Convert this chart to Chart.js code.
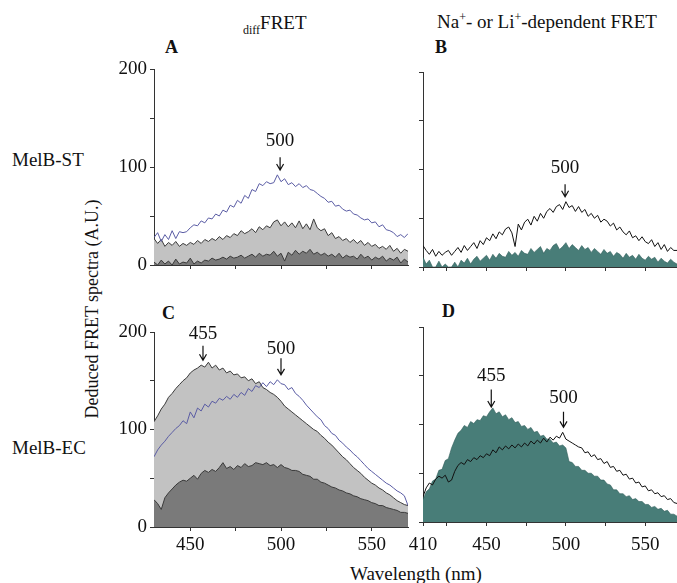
<!DOCTYPE html>
<html>
<head>
<meta charset="utf-8">
<script src="https://cdn.jsdelivr.net/npm/chart.js@4.4.1/dist/chart.umd.min.js"></script>
<style>
  html,body{margin:0;padding:0;background:#fff;}
  body{width:677px;height:583px;position:relative;overflow:hidden;font-family:'Liberation Serif','Times New Roman',serif;color:#111;}
  canvas{position:absolute;}
  .t{position:absolute;white-space:nowrap;font-size:19px;line-height:19px;}
  .b{font-weight:bold;font-size:18px;line-height:18px;}
</style>
</head>
<body>
<div class="t" style="left:243px;top:13px;"><span style="font-size:12px;position:relative;top:5px;">diff</span>FRET</div>
<div class="t" style="left:437px;top:12px;">Na<sup style="font-size:12px;line-height:0;">+</sup>- or Li<sup style="font-size:12px;line-height:0;">+</sup>-dependent FRET</div>
<div class="t b" style="left:165px;top:38px;">A</div>
<div class="t b" style="left:435px;top:38px;">B</div>
<div class="t b" style="left:162px;top:304px;">C</div>
<div class="t b" style="left:442px;top:302px;">D</div>
<div class="t" style="left:12px;top:150px;">MelB-ST</div>
<div class="t" style="left:12px;top:438px;">MelB-EC</div>
<div class="t" style="left:92px;top:309px;font-size:18px;transform:translate(-50%,-50%) rotate(-90deg);">Deduced FRET spectra (A.U.)</div>
<div class="t" style="left:350px;top:564px;">Wavelength (nm)</div>

<canvas id="cA" width="315" height="235" style="left:100px;top:50px;"></canvas>
<canvas id="cB" width="282" height="235" style="left:395px;top:50px;"></canvas>
<canvas id="cC" width="315" height="283" style="left:100px;top:300px;"></canvas>
<canvas id="cD" width="282" height="283" style="left:395px;top:300px;"></canvas>

<script>
// ---------- data ----------
const wlAC = [430,432,434,436,438,440,442,444,446,448,450,452,454,456,458,460,462,464,466,468,
  470,472,474,476,478,480,482,484,486,488,490,492,494,496,498,500,502,504,506,508,
  510,512,514,516,518,520,522,524,526,528,530,532,534,536,538,540,542,544,546,548,
  550,552,554,556,558,560,562,564,566,568,570];
const wlBD = [410,412,414,416,418,420,422,424,426,428,430,432,434,436,438,440,442,444,446,448,
  450,452,454,456,458,460,462,464,466,468,470,472,474,476,478,480,482,484,486,488,
  490,492,494,496,498,500,502,504,506,508,510,512,514,516,518,520,522,524,526,528,
  530,532,534,536,538,540,542,544,546,548,550,552,554,556,558,560,562,564,566,568,570];

// Panel A (MelB-ST, diffFRET)
const aBlue = [28,33,24,31,26,35,27,34,33,34, 38,41,40,45,43,48,47,52,50,56,
  54,61,59,66,63,71,68,77,75,83, 81,85,83,84,92,85,88,82,84,80,
  83,79,81,77,76,73,70,68,64,65, 60,61,57,55,56,52,51,48,46,47,
  43,44,39,41,36,35,33,29,31,28, 32];
const aLight = [27,22,26,19,23,20,24,19,22,20, 23,21,25,22,26,24,27,25,29,26,
  30,28,32,30,35,32,34,37,33,39, 36,40,38,44,46,40,44,39,43,38,
  45,37,42,36,47,38,35,37,30,33, 27,29,25,27,23,26,22,25,20,23,
  19,21,17,19,16,20,14,17,12,16, 14];
const aDark = [3,0,5,1,4,0,6,1,3,2, 7,1,4,2,5,4,7,5,6,8,
  6,9,7,8,10,7,9,11,8,12, 9,11,10,14,9,12,4,13,10,15,
  11,14,12,16,11,13,10,12,9,11, 8,12,7,10,8,9,6,11,7,9,
  5,8,6,9,4,7,5,8,2,6, 3];

// Panel B (MelB-ST, Na+/Li+-dependent)
const bLine = [22,17,13,18,11,16,12,15,17,12, 16,20,15,22,17,21,25,19,27,23,
  30,27,34,29,36,33,39,41,35,21, 44,38,46,49,43,52,47,55,50,57,
  60,56,62,64,59,67,61,63,57,62, 56,59,52,55,50,53,46,49,47,42,
  45,38,41,36,33,37,30,32,27,31, 26,24,28,21,25,18,23,16,20,17, 17];
const bFill = [10,3,7,0,0,6,0,3,0,0, 5,0,7,4,9,3,8,11,6,9,
  12,7,13,9,14,11,10,16,12,15, 11,17,14,13,19,15,18,21,14,19,
  17,22,24,18,21,25,19,23,20,17, 22,18,20,15,19,16,13,18,14,16,
  11,15,13,9,14,10,12,8,13,9, 7,11,8,10,5,9,6,4,8,5, 3];

// Panel C (MelB-EC, diffFRET)
const cBlue = [72,79,84,88,93,97,101,104,109,106, 118,112,122,119,126,123,129,127,132,130,
  134,131,136,133,138,135,142,139,145,143, 148,144,149,146,151,147,146,141,143,137,
  134,130,125,121,117,113,110,104,101,96, 94,89,86,82,79,75,72,68,64,60,
  57,54,51,48,45,43,40,37,35,32, 22];
const cLight = [108,114,121,126,133,137,142,146,150,153, 158,161,163,166,164,169,163,166,161,163,
  158,160,156,157,153,154,150,152,147,149, 143,141,138,136,133,129,124,121,118,115,
  112,109,106,103,100,98,94,91,87,84, 80,76,72,69,65,61,58,55,51,48,
  45,43,40,38,35,33,30,27,25,23, 22];
const cDark = [28,24,18,30,35,39,43,46,48,47, 50,53,49,55,58,56,59,57,61,66,
  60,62,59,63,61,65,62,63,66,65, 64,66,63,64,61,64,61,60,58,58,
  57,54,53,52,49,49,46,45,43,41, 40,38,37,35,34,32,31,29,28,27,
  25,24,22,22,20,19,18,17,15,15, 14];

// Panel D (MelB-EC, Na+/Li+-dependent)
const dLine = [26,35,40,38,44,47,45,48,41,43, 52,58,61,59,64,62,66,64,68,66,
  70,68,74,71,77,74,78,75,79,76, 80,77,81,78,83,80,84,81,86,82,
  87,84,88,86,92,85,83,81,79,77, 76,71,72,67,69,64,65,60,62,56,
  57,52,53,48,49,44,45,40,41,36, 37,32,33,29,30,26,27,23,24,20, 19];
const dFill = [23,31,34,42,44,53,54,63,65,76, 84,91,94,99,97,103,101,105,104,109,
  108,113,117,111,113,108,110,105,107,102, 103,98,99,95,97,92,93,88,89,85,
  85,81,82,78,79,76,62,61,57,57, 53,53,50,50,47,47,43,43,39,38,
  33,33,29,29,26,27,23,24,21,21, 18,18,15,16,13,14,11,12,8,8, 6];

// Tick values and labels
const yTicks = [0,50,100,150,200];
const yLabels = [0,100,200];
const xTicksAC = [450,475,500,525,550];
const xTicksBD = [410,425,450,475,500,525,550];
const xLabelsAC = [450,500,550];
const xLabelsBD = [410,450,500,550];

// Peak annotations: text, wavelength, value of text centre, arrow start, arrow tip
const annA = [{text:'500', x:499.5, textY:127, from:110, to:97}];
const annB = [{text:'500', x:499.5, textY:102, from:85, to:72}];
const annC = [{text:'455', x:457, textY:198, from:186, to:171},
              {text:'500', x:500, textY:183, from:173, to:156}];
const annD = [{text:'455', x:453, textY:150, from:136, to:118},
              {text:'500', x:498.5, textY:127, from:113, to:97}];

// ---------- drawing ----------
const FONT = "'Liberation Serif','Times New Roman',serif";
const AX = '#333';
const pts = (xs, ys) => xs.map((x,i) => ({x:x, y:ys[i]}));

const annPlugin = {
  id:'ann',
  afterDraw(chart, args, opts){
    const list = opts.items || [];
    const ctx = chart.ctx, xs = chart.scales.x, ys = chart.scales.y;
    ctx.save();
    ctx.fillStyle = '#111'; ctx.strokeStyle = '#111'; ctx.lineWidth = 1.2;
    ctx.font = '19px ' + FONT; ctx.textAlign = 'center'; ctx.textBaseline = 'middle';
    list.forEach(a => {
      const px = xs.getPixelForValue(a.x);
      ctx.fillText(a.text, px, ys.getPixelForValue(a.textY));
      const y1 = ys.getPixelForValue(a.from), y2 = ys.getPixelForValue(a.to);
      ctx.beginPath();
      ctx.moveTo(px, y1); ctx.lineTo(px, y2);
      ctx.moveTo(px-3.5, y2-6); ctx.lineTo(px, y2); ctx.lineTo(px+3.5, y2-6);
      ctx.stroke();
    });
    ctx.restore();
  }
};

function makeChart(id, cfg){
  const ds = cfg.datasets.map(d => Object.assign({
    pointRadius:0, borderWidth:1, tension:0, borderJoinStyle:'miter'
  }, d));
  return new Chart(document.getElementById(id), {
    type:'line',
    data:{datasets:ds},
    plugins:[annPlugin],
    options:{
      responsive:false, animation:false, devicePixelRatio:1,
      layout:{padding:{top:cfg.padTop, right:cfg.padRight, left:0, bottom:0}},
      plugins:{legend:{display:false}, tooltip:{enabled:false}, ann:{items:cfg.ann}},
      scales:{
        x:{type:'linear', min:cfg.xmin, max:570,
          afterBuildTicks: s => { s.ticks = cfg.xTicks.map(v => ({value:v})); },
          afterFit: s => { s.height = cfg.xH; },
          ticks:{autoSkip:false, maxRotation:0, padding:cfg.xPad, color:'#111',
            font:{family:FONT, size:19},
            callback: v => cfg.xLabels.includes(v) ? String(v) : ''},
          grid:{drawOnChartArea:false, drawTicks:true, tickLength:4, color:AX},
          border:{display:true, color:AX, width:1}},
        y:{type:'linear', min:0, max:200,
          afterBuildTicks: s => { s.ticks = yTicks.map(v => ({value:v})); },
          afterFit: s => { s.width = cfg.yW; },
          ticks:{autoSkip:false, padding:3, color:'#111', font:{family:FONT, size:19},
            callback: v => (cfg.yLab && yLabels.includes(v)) ? String(v) : ''},
          grid:{drawOnChartArea:false, drawTicks:true, tickLength:4, color:AX},
          border:{display:true, color:AX, width:1}}
      }
    }
  });
}

const LIGHT = '#c2c2c2', DARK = '#7a7a7a', TEAL = '#487d78', BLUE = '#5a5ca4', EDGE = '#3a3a3a';

makeChart('cA', {padTop:19, padRight:7, yW:54, xH:20, xPad:3, xmin:430, yLab:true,
  xTicks:xTicksAC, xLabels:[], ann:annA,
  datasets:[
    {data:pts(wlAC,aBlue), borderColor:BLUE, fill:false, order:0},
    {data:pts(wlAC,aDark), borderColor:EDGE, backgroundColor:DARK, fill:'origin', order:1},
    {data:pts(wlAC,aLight), borderColor:EDGE, backgroundColor:LIGHT, fill:'origin', order:2}
  ]});

makeChart('cB', {padTop:22, padRight:0, yW:28, xH:18, xPad:3, xmin:410, yLab:false,
  xTicks:xTicksBD, xLabels:[], ann:annB,
  datasets:[
    {data:pts(wlBD,bLine), borderColor:'#111', fill:false, order:0},
    {data:pts(wlBD,bFill), borderColor:'#2f5d59', borderWidth:0.6, backgroundColor:TEAL, fill:'origin', order:1}
  ]});

makeChart('cC', {padTop:32, padRight:7, yW:54, xH:56, xPad:3, xmin:430, yLab:true,
  xTicks:xTicksAC, xLabels:xLabelsAC, ann:annC,
  datasets:[
    {data:pts(wlAC,cBlue), borderColor:BLUE, fill:false, order:0},
    {data:pts(wlAC,cDark), borderColor:EDGE, backgroundColor:DARK, fill:'origin', order:1},
    {data:pts(wlAC,cLight), borderColor:EDGE, backgroundColor:LIGHT, fill:'origin', order:2}
  ]});

makeChart('cD', {padTop:27, padRight:0, yW:28, xH:61, xPad:8, xmin:410, yLab:false,
  xTicks:xTicksBD, xLabels:xLabelsBD, ann:annD,
  datasets:[
    {data:pts(wlBD,dLine), borderColor:'#111', fill:false, order:0},
    {data:pts(wlBD,dFill), borderColor:'#2f5d59', borderWidth:0.6, backgroundColor:TEAL, fill:'origin', order:1}
  ]});
</script>
</body>
</html>
